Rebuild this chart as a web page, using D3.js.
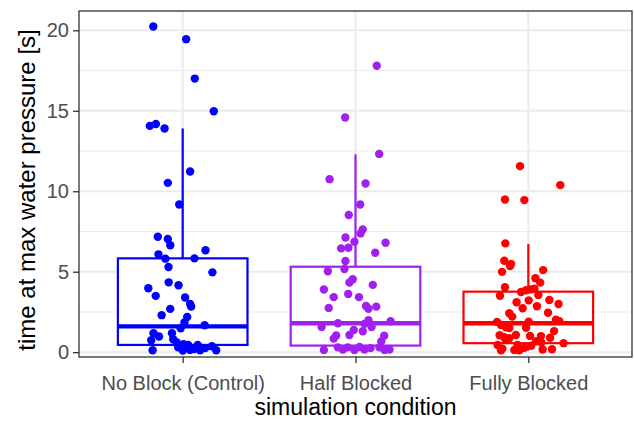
<!DOCTYPE html>
<html>
<head>
<meta charset="utf-8">
<script src="https://cdn.jsdelivr.net/npm/d3@7"></script>
<style>
  html, body { margin: 0; padding: 0; background: #ffffff; }
  svg { display: block; font-family: "Liberation Sans", Arial, Helvetica, sans-serif; }
</style>
</head>
<body>
<div id="chart"></div>
<script>
// ---------- data ----------
const categories = ["No Block (Control)", "Half Blocked", "Fully Blocked"];
const groupColors = ["#0000FF", "#A020F0", "#FF0000"];
const yTicks = [0, 5, 10, 15, 20];
const yMinorTicks = [2.5, 7.5, 12.5, 17.5];
const xTitle = "simulation condition";
const yTitle = "time at max water pressure [s]";

// box statistics
const boxQ1 = [0.45, 0.41, 0.56];
const boxMedian = [1.6, 1.8, 1.8];
const boxQ3 = [5.83, 5.31, 3.76];
const whiskerLow = [0.04, 0.12, 0.1];
const whiskerHigh = [13.9, 12.3, 6.72];

// jittered observations: value and horizontal jitter (category units)
const noBlockValues = [20.24, 19.45, 17.0, 14.97, 14.06, 14.18, 13.9, 11.23, 10.52, 9.18,
  7.17, 7.03, 6.64, 6.33, 6.08, 5.81, 5.83, 5.29, 4.96, 4.34,
  4.16, 3.97, 3.5, 3.4, 2.99, 2.83, 2.69, 2.3, 2.19, 1.84,
  1.67, 1.49, 1.18, 1.18, 0.97, 0.74, 0.8, 0.6, 0.5, 0.45,
  0.45, 0.12, 0.1, 0.14, 0.12, 0.37, 0.12, 0.3, 0.2, 0.25];
const noBlockJitter = [-0.17, 0.02, 0.07, 0.18, -0.19, -0.155, -0.105, 0.043, -0.086, -0.02,
  -0.144, -0.086, -0.072, 0.132, -0.14, -0.10, 0.068, -0.082, 0.172, -0.081,
  -0.024, -0.199, -0.156, 0.014, 0.043, 0.049, -0.072, -0.122, 0.026, 0.01,
  0.127, -0.012, -0.169, -0.062, -0.137, -0.182, -0.055, -0.034, 0.005, 0.032,
  0.087, -0.174, 0.001, 0.043, 0.101, 0.169, 0.194, -0.026, 0.067, 0.13];

const halfValues = [17.8, 14.58, 12.32, 10.75, 10.48, 9.18, 8.52, 7.63, 7.38, 7.13,
  6.86, 6.8, 6.45, 6.49, 6.18, 5.67, 5.17, 5.03, 4.53, 4.33,
  4.18, 3.89, 3.42, 3.62, 3.42, 2.87, 2.7, 2.83, 2.75, 1.98,
  1.92, 1.8, 1.57, 1.76, 1.57, 1.38, 1.3, 1.07, 1.04, 0.84,
  1.02, 0.66, 0.14, 0.3, 0.16, 0.3, 0.14, 0.32, 0.16, 0.25,
  0.3, 0.14, 0.16];
const halfJitter = [0.123, -0.06, 0.137, -0.15, 0.058, 0.027, -0.039, 0.042, 0.029, -0.058,
  -0.006, 0.174, -0.083, -0.041, 0.114, -0.058, -0.064, -0.16, -0.016, -0.035,
  0.1, -0.183, -0.126, -0.042, 0.02, 0.061, 0.075, 0.12, -0.155, 0.075,
  0.203, -0.102, -0.196, 0.052, 0.093, -0.01, 0.042, -0.035, -0.112, -0.126,
  0.166, 0.149, -0.183, -0.102, -0.073, -0.045, -0.006, 0.023, 0.052, 0.087,
  0.139, 0.168, 0.197];

const fullyValues = [11.56, 10.38, 9.49, 9.45, 6.76, 5.68, 5.48, 5.35, 4.99, 5.1,
  4.59, 4.32, 4.03, 3.95, 3.74, 3.85, 3.9, 3.51, 3.55, 3.1,
  3.22, 3.24, 2.99, 2.85, 2.73, 2.45, 2.42, 2.21, 2.02, 1.93,
  1.88, 1.69, 1.9, 1.55, 1.5, 1.52, 1.31, 1.05, 0.93, 0.87,
  1.07, 1.01, 1.0, 0.9, 0.56, 0.68, 0.6, 0.45, 0.22, 0.14,
  0.12, 0.27, 0.17, 0.18, 0.45, 0.12, 0.76, 0.4];
const fullyJitter = [-0.048, 0.185, -0.135, -0.023, -0.133, -0.139, -0.1, -0.106, -0.152, 0.086,
  0.041, 0.069, -0.135, 0.035, -0.042, -0.013, 0.016, -0.164, 0.058, -0.068,
  0.002, 0.122, 0.175, 0.05, -0.033, 0.114, -0.11, -0.093, 0.16, 0.179,
  -0.181, -0.158, 0.002, -0.129, -0.11, -0.013, 0.149, -0.166, -0.139, -0.11,
  -0.072, 0.01, 0.073, 0.126, 0.204, 0.045, 0.075, -0.178, -0.15, -0.081,
  -0.052, -0.023, 0.083, 0.137, -0.062, -0.158, -0.129, 0.017];

const seriesValues = [noBlockValues, halfValues, fullyValues];
const seriesJitter = [noBlockJitter, halfJitter, fullyJitter];

// ---------- layout ----------
const W = 634, H = 421;
const panel = { left: 79, right: 632, top: 11, bottom: 357 };

const svg = d3.select("#chart").append("svg")
  .attr("width", W).attr("height", H);

const x = d3.scalePoint()
  .domain(categories)
  .range([panel.left, panel.right])
  .padding(0.6);
const step = x.step();

const y = d3.scaleLinear()
  .domain([-0.3, 21.2])
  .range([panel.bottom, panel.top]);

// panel background
svg.append("rect")
  .attr("x", panel.left).attr("y", panel.top)
  .attr("width", panel.right - panel.left).attr("height", panel.bottom - panel.top)
  .attr("fill", "#ffffff");

// grid
const grid = svg.append("g");
grid.selectAll("line.minor").data(yMinorTicks).join("line")
  .attr("class", "minor")
  .attr("x1", panel.left).attr("x2", panel.right)
  .attr("y1", d => y(d)).attr("y2", d => y(d))
  .attr("stroke", "#EBEBEB").attr("stroke-width", 1.1);
grid.selectAll("line.major").data(yTicks).join("line")
  .attr("class", "major")
  .attr("x1", panel.left).attr("x2", panel.right)
  .attr("y1", d => y(d)).attr("y2", d => y(d))
  .attr("stroke", "#EBEBEB").attr("stroke-width", 2);
grid.selectAll("line.vmajor").data(categories).join("line")
  .attr("class", "vmajor")
  .attr("x1", d => x(d)).attr("x2", d => x(d))
  .attr("y1", panel.top).attr("y2", panel.bottom)
  .attr("stroke", "#EBEBEB").attr("stroke-width", 2);

// boxplots
const boxW = 0.75 * step;
const boxes = svg.append("g");
categories.forEach((c, i) => {
  const cx = x(c);
  const col = groupColors[i];
  const g = boxes.append("g");
  g.append("line")
    .attr("x1", cx).attr("x2", cx)
    .attr("y1", y(boxQ3[i])).attr("y2", y(whiskerHigh[i]))
    .attr("stroke", col).attr("stroke-width", 2.2);
  g.append("line")
    .attr("x1", cx).attr("x2", cx)
    .attr("y1", y(boxQ1[i])).attr("y2", y(whiskerLow[i]))
    .attr("stroke", col).attr("stroke-width", 2.2);
  g.append("rect")
    .attr("x", cx - boxW / 2).attr("width", boxW)
    .attr("y", y(boxQ3[i])).attr("height", y(boxQ1[i]) - y(boxQ3[i]))
    .attr("fill", "#ffffff").attr("stroke", col).attr("stroke-width", 2.2);
  g.append("line")
    .attr("x1", cx - boxW / 2).attr("x2", cx + boxW / 2)
    .attr("y1", y(boxMedian[i])).attr("y2", y(boxMedian[i]))
    .attr("stroke", col).attr("stroke-width", 4.4);
});

// jittered points
const pts = svg.append("g");
categories.forEach((c, i) => {
  const data = seriesValues[i].map((v, k) => ({ v, j: seriesJitter[i][k] }));
  pts.append("g").selectAll("circle").data(data).join("circle")
    .attr("cx", d => x(c) + d.j * step)
    .attr("cy", d => y(d.v))
    .attr("r", 4.2)
    .attr("fill", groupColors[i]);
});

// panel border
svg.append("rect")
  .attr("x", panel.left).attr("y", panel.top)
  .attr("width", panel.right - panel.left).attr("height", panel.bottom - panel.top)
  .attr("fill", "none").attr("stroke", "#333333").attr("stroke-width", 1.3);

// axes
const tickFont = 20;
const yAxis = svg.append("g")
  .attr("transform", `translate(${panel.left},0)`)
  .call(d3.axisLeft(y).tickValues(yTicks).tickSize(6).tickPadding(4).tickFormat(d3.format("d")));
yAxis.select(".domain").remove();
yAxis.selectAll(".tick line").attr("stroke", "#333333").attr("stroke-width", 1.3);
yAxis.selectAll(".tick text")
  .attr("fill", "#4D4D4D").style("font-size", tickFont + "px")
  .style("font-family", "'Liberation Sans', Arial, sans-serif");

const xAxis = svg.append("g")
  .attr("transform", `translate(0,${panel.bottom})`)
  .call(d3.axisBottom(x).tickSize(6).tickPadding(13));
xAxis.select(".domain").remove();
xAxis.selectAll(".tick line").attr("stroke", "#333333").attr("stroke-width", 1.3);
xAxis.selectAll(".tick text")
  .attr("fill", "#4D4D4D").style("font-size", tickFont + "px")
  .style("font-family", "'Liberation Sans', Arial, sans-serif");

// axis titles
svg.append("text")
  .attr("x", (panel.left + panel.right) / 2).attr("y", 415)
  .attr("text-anchor", "middle")
  .style("font-size", "23px").attr("fill", "#000000")
  .text(xTitle);

svg.append("text")
  .attr("transform", `translate(35,${(panel.top + panel.bottom) / 2 + 6}) rotate(-90)`)
  .attr("text-anchor", "middle")
  .style("font-size", "24px").attr("fill", "#000000")
  .text(yTitle);
</script>
</body>
</html>
